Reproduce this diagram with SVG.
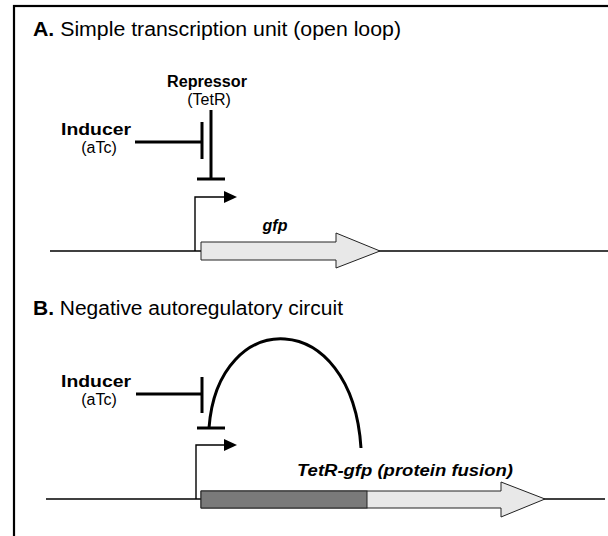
<svg xmlns="http://www.w3.org/2000/svg" width="608" height="536" viewBox="0 0 608 536">
<style>
.t{font-family:"Liberation Sans",Arial,sans-serif;fill:#000}
.title{font-size:20px}
.lbl{font-size:16px}
.b{font-weight:bold}
.bi{font-weight:bold;font-style:italic}
.thick{stroke:#000;stroke-width:3;fill:none}
.thin{stroke:#000;stroke-width:1.4;fill:none}
.gene{fill:#e8e8e8;stroke:#222;stroke-width:1}
</style>
<defs>
<marker id="prom" markerWidth="14" markerHeight="12" refX="0" refY="6" orient="auto" markerUnits="userSpaceOnUse">
<path d="M0,0 L13,6 L0,12 Z" fill="#000"/>
</marker>
</defs>
<rect x="14" y="6" width="620" height="560" fill="#fff" stroke="#000" stroke-width="2.2"/>

<g id="titleA"><text class="t title" x="33" y="36" textLength="368" lengthAdjust="spacingAndGlyphs"><tspan class="b">A.</tspan> Simple transcription unit (open loop)</text></g>

<g id="repressorA">
<text class="t lbl b" x="207" y="87" text-anchor="middle" textLength="80" lengthAdjust="spacingAndGlyphs">Repressor</text>
<text class="t lbl" x="209" y="105" text-anchor="middle">(TetR)</text>
</g>
<g id="inducerA">
<text class="t lbl b" x="96" y="135" text-anchor="middle" textLength="70" lengthAdjust="spacingAndGlyphs">Inducer</text>
<text class="t lbl" x="99" y="153" text-anchor="middle">(aTc)</text>
</g>
<g id="dnaA">
<line class="thin" x1="50" y1="251" x2="608" y2="251"/>
</g>
<g id="promoterA">
<path class="thin" d="M195,251 V197 H224" marker-end="url(#prom)"/>
</g>
<g id="gfpA">
<path class="gene" d="M201,242 H336 V233 L380,251 L336,268 V260 H201 Z"/>
<text class="t lbl bi" x="275" y="231" text-anchor="middle">gfp</text>
</g>

<g id="titleB"><text class="t title" x="33" y="315" textLength="310" lengthAdjust="spacingAndGlyphs"><tspan class="b">B.</tspan> Negative autoregulatory circuit</text></g>
<g id="inducerB">
<text class="t lbl b" x="96" y="387" text-anchor="middle" textLength="70" lengthAdjust="spacingAndGlyphs">Inducer</text>
<text class="t lbl" x="99" y="405" text-anchor="middle">(aTc)</text>
</g>
<g id="dnaB">
<line class="thin" x1="46" y1="499" x2="605" y2="499"/>
</g>
<g id="promoterB">
<path class="thin" d="M196,499 V445 H224" marker-end="url(#prom)"/>
</g>
<g id="fusionB">
<path class="gene" d="M201,491 H501 V482 L545,499 L501,517 V508 H201 Z"/>
<rect x="201" y="491" width="166" height="17" fill="#7a7a7a" stroke="#222" stroke-width="1"/>
<text class="t lbl bi" x="297" y="476" textLength="216" lengthAdjust="spacingAndGlyphs">TetR-gfp (protein fusion)</text>
</g>

<g id="connectors">
<line class="thick" x1="211" y1="110" x2="211" y2="179"/>
<line class="thick" x1="197" y1="179" x2="225" y2="179"/>
<line class="thick" x1="135" y1="142" x2="202" y2="142"/>
<line class="thick" x1="202" y1="122" x2="202" y2="159"/>
<line class="thick" x1="136" y1="394" x2="202" y2="394"/>
<line class="thick" x1="202" y1="377" x2="202" y2="413"/>
<path class="thick" d="M209,428 C218,306 352,306 361,448"/>
<line class="thick" x1="197" y1="428" x2="225" y2="428"/>
</g>
</svg>
